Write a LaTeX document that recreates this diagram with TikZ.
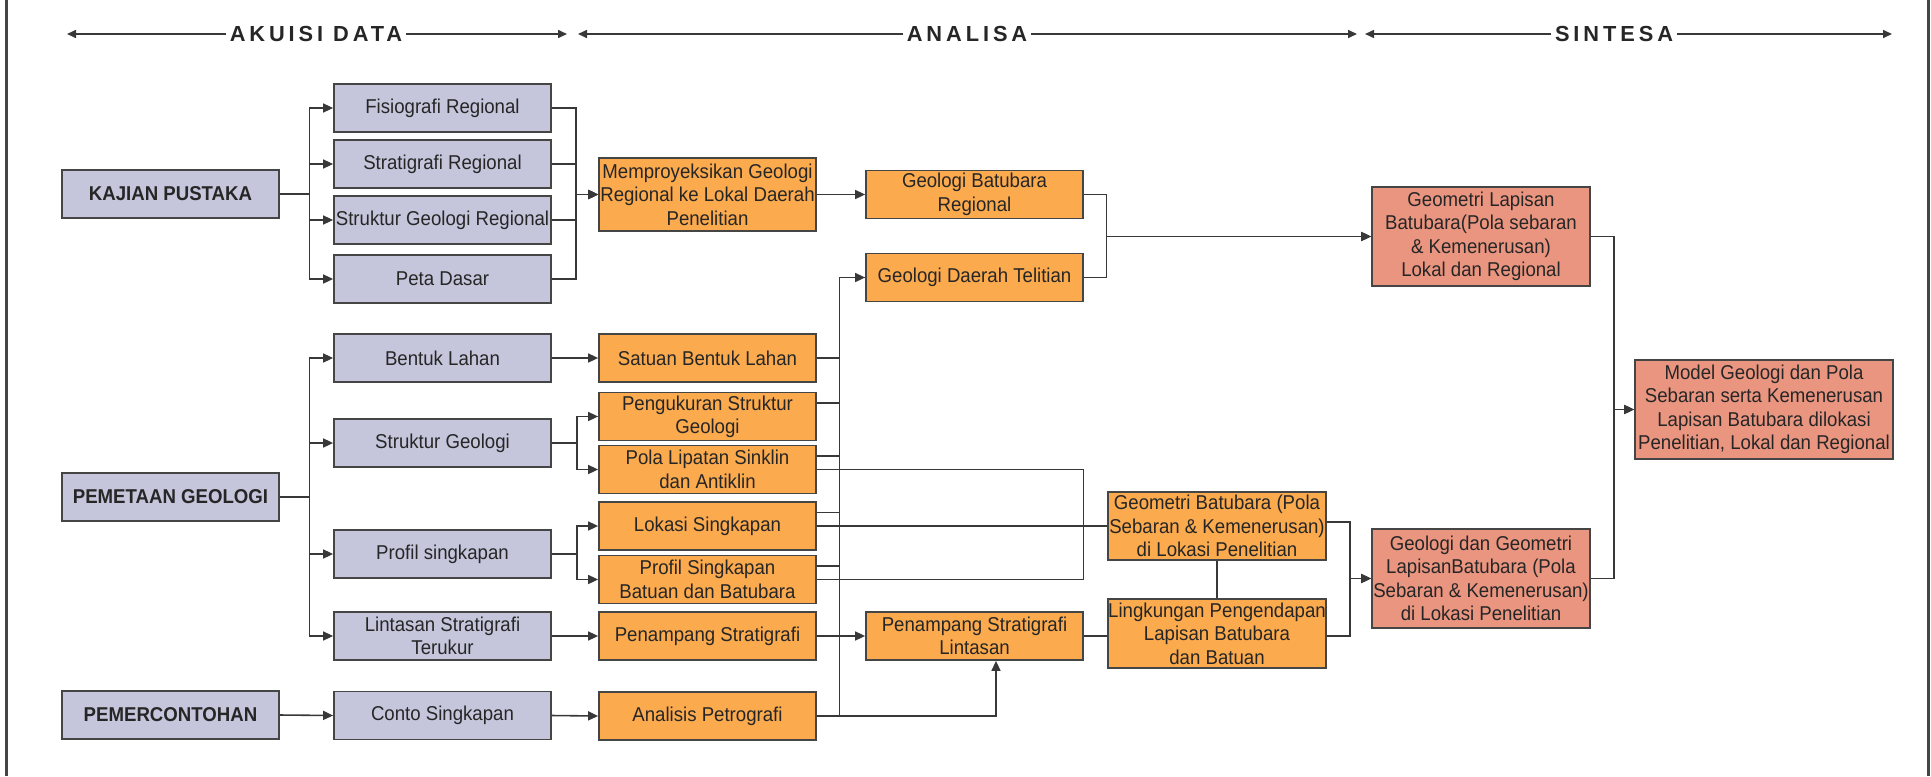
\documentclass[tikz,border=0pt]{standalone}
\usepackage{fontspec}
\setmainfont[FakeStretch=0.93]{Liberation Sans}
\newfontfamily\hdrfont[LetterSpace=18]{Liberation Sans}
\usetikzlibrary{arrows.meta,calc}

\definecolor{greyfill}{HTML}{C5C5DC}
\definecolor{orangefill}{HTML}{FBAA4E}
\definecolor{salmonfill}{HTML}{EA9580}
\definecolor{edge}{HTML}{454545}
\definecolor{wirecol}{HTML}{383838}

\tikzset{
  box/.style={draw=edge, line width=1pt, inner sep=0pt, align=center, text=black!85,
    font=\fontsize{11.4}{13.3}\selectfont, minimum width=4.34cm, minimum height=0.96cm},
  greybox/.style={box, fill=greyfill},
  mainbox/.style={greybox, font=\bfseries\fontsize{11.4}{13.3}\selectfont},
  orangebox/.style={box, fill=orangefill},
  salmonbox/.style={box, fill=salmonfill, minimum width=4.36cm, minimum height=1.98cm},
  wire/.style={draw=wirecol, line width=0.9pt},
  arr/.style={wire, -{Triangle[length=2mm,width=1.8mm]}},
  phase/.style={font=\hdrfont\bfseries\fontsize{12.4}{14}\selectfont, inner xsep=2pt, text=black!85},
  hdr/.style={wire, -{Triangle[length=1.8mm,width=1.6mm]}},
}

\begin{document}
\begin{tikzpicture}[x=0.2mm,y=-0.2mm]
    \useasboundingbox (0,0) rectangle (1931,776);

    % Frame
    \draw[edge, line width=1.2pt] (6.5,0) -- (6.5,776);
    \draw[edge, line width=1.2pt] (1928.5,0) -- (1928.5,776);

    % Phases
    \coordinate (a1) at (67,34);   \coordinate (a2) at (567,34);
    \coordinate (b1) at (578,34);  \coordinate (b2) at (1357,34);
    \coordinate (c1) at (1365,34); \coordinate (c2) at (1892,34);
    \node[phase] (akuisi) at (316,34) {AKUISI DATA};
    \node[phase] (analisa) at (967,34) {ANALISA};
    \node[phase] (sintesa) at (1614,34) {SINTESA};
    \draw[hdr] (akuisi.west) -- (a1);
    \draw[hdr] (akuisi.east) -- (a2);
    \draw[hdr] (analisa.west) -- (b1);
    \draw[hdr] (analisa.east) -- (b2);
    \draw[hdr] (sintesa.west) -- (c1);
    \draw[hdr] (sintesa.east) -- (c2);

    % Kegiatan
    \node[mainbox] (kajian) at (170.5,194) {KAJIAN PUSTAKA};
    \node[mainbox] (pemetaan) at (170.5,497) {PEMETAAN GEOLOGI};
    \node[mainbox] (pemerc) at (170.5,715) {PEMERCONTOHAN};

    % Data
    \node[greybox] (fisio) at (442.5,108) {Fisiografi Regional};
    \node[greybox] (strati) at (442.5,164) {Stratigrafi Regional};
    \node[greybox] (strukreg) at (442.5,220) {Struktur Geologi Regional};
    \node[greybox] (peta) at (442.5,279) {Peta Dasar};
    \node[greybox] (bentuk) at (442.5,358) {Bentuk Lahan};
    \node[greybox] (strukgeo) at (442.5,443) {Struktur Geologi};
    \node[greybox] (profil) at (442.5,554) {Profil singkapan};
    \node[greybox] (lintasan) at (442.5,636) {Lintasan Stratigrafi\\Terukur};
    \node[greybox] (conto) at (442.5,715.5) {Conto Singkapan};

    % Analisa
    \node[orangebox, minimum height=1.46cm] (proyeksi) at (707.5,194.5) {Memproyeksikan Geologi\\Regional ke Lokal Daerah\\Penelitian};
    \node[orangebox] (satuan) at (707.5,358) {Satuan Bentuk Lahan};
    \node[orangebox] (pengukuran) at (707.5,416.5) {Pengukuran Struktur\\Geologi};
    \node[orangebox] (pola) at (707.5,469.5) {Pola Lipatan Sinklin\\dan Antiklin};
    \node[orangebox] (lokasi) at (707.5,526) {Lokasi Singkapan};
    \node[orangebox] (profsing) at (707.5,579.5) {Profil Singkapan\\Batuan dan Batubara};
    \node[orangebox] (penampang) at (707.5,636) {Penampang Stratigrafi};
    \node[orangebox] (analisis) at (707.5,716) {Analisis Petrografi};

    \node[orangebox] (batreg) at (974.5,194.5) {Geologi Batubara\\Regional};
    \node[orangebox] (daerah) at (974.5,277.5) {Geologi Daerah Telitian};
    \node[orangebox] (lintasan2) at (974.5,636) {Penampang Stratigrafi\\Lintasan};

    \node[orangebox, minimum width=4.36cm, minimum height=1.36cm] (geombat) at (1217,526) {Geometri Batubara (Pola\\Sebaran \& Kemenerusan)\\di Lokasi Penelitian};
    \node[orangebox, minimum width=4.36cm, minimum height=1.38cm] (lingk) at (1217,633.5) {Lingkungan Pengendapan\\Lapisan Batubara\\dan Batuan};

    % Sintesa
    \node[salmonbox] (geomlap) at (1481,236.5) {Geometri Lapisan\\Batubara(Pola sebaran\\\& Kemenerusan)\\Lokal dan Regional};
    \node[salmonbox] (geolgeom) at (1481,578.5) {Geologi dan Geometri\\LapisanBatubara (Pola\\Sebaran \& Kemenerusan)\\di Lokasi Penelitian};
    \node[salmonbox, minimum width=5.16cm] (model) at (1764,409.5) {Model Geologi dan Pola\\Sebaran serta Kemenerusan\\Lapisan Batubara dilokasi\\Penelitian, Lokal dan Regional};

    % Kajian pustaka
    \foreach \n in {fisio,strati,strukreg,peta}
        \draw[arr] (kajian.east) -- ++(29.5,0) |- (\n.west);
    \foreach \n in {fisio,strati,strukreg,peta}
        \draw[arr] (\n.east) -- ++(24,0) |- (proyeksi.west);
    \draw[arr] (proyeksi.east) -- (batreg.west);
    \foreach \n in {batreg,daerah}
        \draw[arr] (\n.east) -- ++(22.5,0) |- (geomlap.west);

    % Pemetaan geologi
    \foreach \n in {bentuk,strukgeo,profil,lintasan}
        \draw[arr] (pemetaan.east) -- ++(29.5,0) |- (\n.west);
    \draw[arr] (bentuk.east) -- (satuan.west);
    \foreach \n in {pengukuran,pola}
        \draw[arr] (strukgeo.east) -- ++(25,0) |- (\n.west);
    \foreach \n in {lokasi,profsing}
        \draw[arr] (profil.east) -- ++(25,0) |- (\n.west);
    \draw[arr] (lintasan.east) -- (penampang.west);

    % Pemercontohan
    \draw[arr] (pemerc.east) -- (conto.west);
    \draw[arr] (conto.east) -- (analisis.west);

    % Ke geologi daerah telitian
    \draw[arr] (satuan.east) -- ++(22.5,0) |- (daerah.west);
    \foreach \n in {pengukuran,pola,lokasi,profsing}
        \draw[wire] ($(\n.north east)+(0,11.5)$) -- ++(22.5,0);
    \draw[wire] (analisis.east) -- ++(22.5,0) |- (daerah.west);
    \draw[arr] (analisis.east) -| ($(lintasan2.south)+(21.5,0)$);
    \draw[arr] (penampang.east) -- (lintasan2.west);

    % Geometri dan lingkungan
    \draw[wire] (pola.east) -| ($(profsing.east)+(266.5,0)$) -- (profsing.east);
    \draw[wire] (lokasi.east) -- (lokasi.east -| geombat.west);
    \draw[wire] (geombat.south) -- (lingk.north);
    \draw[wire] (lintasan2.east) -- (lintasan2.east -| lingk.west);
    \draw[arr] ($(geombat.east)+(0,-4)$) -- ++(23,0) |- (geolgeom.west);
    \draw[arr] ($(lingk.east)+(0,2.5)$) -- ++(23,0) |- (geolgeom.west);

    % Model
    \draw[arr] (geomlap.east) -- ++(23,0) |- (model.west);
    \draw[arr] (geolgeom.east) -- ++(23,0) |- (model.west);
\end{tikzpicture}
\end{document}
